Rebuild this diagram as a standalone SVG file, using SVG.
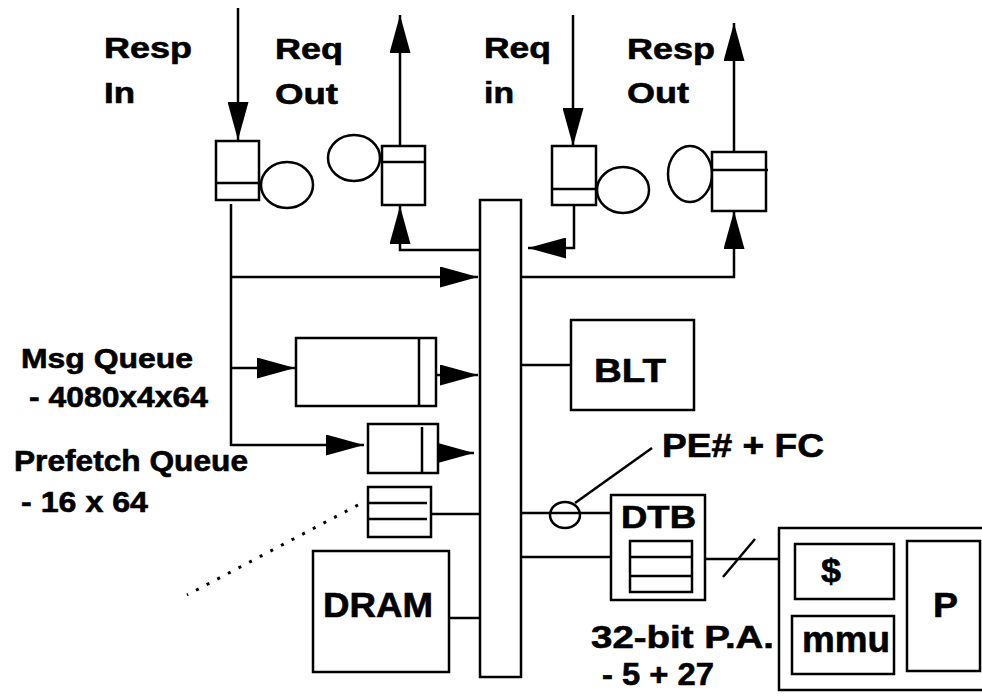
<svg xmlns="http://www.w3.org/2000/svg" width="982" height="699" viewBox="0 0 982 699">
<style>
.s{fill:none;stroke:#000;stroke-width:2.5}
.w{fill:#fff;stroke:#000;stroke-width:2.5}
.t{font-family:"Liberation Sans",Arial,Helvetica,sans-serif;font-weight:bold;fill:#000;stroke:#000;stroke-width:0.6}
</style>
<defs>
<marker id="ah" viewBox="0 0 38 21" refX="38" refY="10.5" markerWidth="38" markerHeight="21" markerUnits="userSpaceOnUse" orient="auto">
<path d="M0,0 L38,10.5 L0,21 z" fill="#000"/>
</marker>
</defs>
<rect width="982" height="699" fill="#fff"/>

<g id="labels">
<text class="t" x="104" y="58" font-size="30" textLength="88" lengthAdjust="spacingAndGlyphs">Resp</text>
<text class="t" x="104" y="103" font-size="30" textLength="31" lengthAdjust="spacingAndGlyphs">In</text>
<text class="t" x="275" y="59" font-size="30" textLength="68" lengthAdjust="spacingAndGlyphs">Req</text>
<text class="t" x="275" y="104" font-size="30" textLength="63" lengthAdjust="spacingAndGlyphs">Out</text>
<text class="t" x="484" y="58" font-size="30" textLength="67" lengthAdjust="spacingAndGlyphs">Req</text>
<text class="t" x="484" y="103" font-size="30" textLength="30" lengthAdjust="spacingAndGlyphs">in</text>
<text class="t" x="627" y="59" font-size="30" textLength="88" lengthAdjust="spacingAndGlyphs">Resp</text>
<text class="t" x="627" y="103" font-size="30" textLength="62" lengthAdjust="spacingAndGlyphs">Out</text>
<text class="t" x="21" y="368" font-size="28" textLength="172" lengthAdjust="spacingAndGlyphs">Msg Queue</text>
<text class="t" x="29" y="407" font-size="29" textLength="179" lengthAdjust="spacingAndGlyphs">- 4080x4x64</text>
<text class="t" x="14" y="471" font-size="29" textLength="234" lengthAdjust="spacingAndGlyphs">Prefetch Queue</text>
<text class="t" x="21" y="512" font-size="30" textLength="127" lengthAdjust="spacingAndGlyphs">- 16 x 64</text>
<text class="t" x="662" y="457" font-size="33" textLength="162" lengthAdjust="spacingAndGlyphs">PE# + FC</text>
<text class="t" x="591" y="648" font-size="32" textLength="183" lengthAdjust="spacingAndGlyphs">32-bit P.A.</text>
<text class="t" x="602" y="685" font-size="32" textLength="112" lengthAdjust="spacingAndGlyphs">- 5 + 27</text>
</g>

<g id="connectors">
<line class="s" x1="238" y1="8" x2="238" y2="140" marker-end="url(#ah)"/>
<line class="s" x1="400" y1="146" x2="400" y2="15" marker-end="url(#ah)"/>
<path class="s" d="M481,250 H400 V206" marker-end="url(#ah)"/>
<path class="s" d="M231,204 V445 H364" marker-end="url(#ah)"/>
<line class="s" x1="231" y1="277" x2="478" y2="277" marker-end="url(#ah)"/>
<line class="s" x1="231" y1="368" x2="295" y2="368" marker-end="url(#ah)"/>
<line class="s" x1="436" y1="375" x2="478" y2="375" marker-end="url(#ah)"/>
<line class="s" x1="434" y1="453" x2="474" y2="453" marker-end="url(#ah)"/>
<line class="s" x1="431" y1="514" x2="480" y2="514"/>
<line class="s" x1="449" y1="618" x2="480" y2="618"/>
<line x1="358" y1="505" x2="187" y2="595" stroke="#000" stroke-width="3" stroke-dasharray="3 9"/>
<line class="s" x1="573" y1="15" x2="573" y2="146" marker-end="url(#ah)"/>
<path class="s" d="M574,205 V248 H528" marker-end="url(#ah)"/>
<path class="s" d="M521,277 H734 V211" marker-end="url(#ah)"/>
<line class="s" x1="734" y1="152" x2="734" y2="23" marker-end="url(#ah)"/>
<line class="s" x1="521" y1="365" x2="571" y2="365"/>
<line class="s" x1="521" y1="513" x2="611" y2="513"/>
<line class="s" x1="521" y1="557" x2="611" y2="557"/>
<line class="s" x1="575" y1="503" x2="652" y2="448"/>
<line class="s" x1="705" y1="559" x2="780" y2="559"/>
<line class="s" x1="723" y1="577" x2="755" y2="539"/>
</g>

<g id="resp-in-queue">
<rect class="w" x="216" y="141" width="43" height="59"/>
<line class="s" x1="216" y1="183" x2="259" y2="183"/>
</g>
<g id="circle-1"><ellipse class="s" cx="287" cy="185" rx="26" ry="23"/></g>
<g id="circle-2"><ellipse class="s" cx="354" cy="158" rx="26" ry="23"/></g>
<g id="req-out-queue">
<rect class="w" x="382" y="146" width="43" height="59"/>
<line class="s" x1="382" y1="162" x2="425" y2="162"/>
</g>
<g id="req-in-queue">
<rect class="w" x="552" y="146" width="44" height="59"/>
<line class="s" x1="552" y1="189" x2="596" y2="189"/>
</g>
<g id="circle-3"><ellipse class="s" cx="623" cy="190" rx="26" ry="23"/></g>
<g id="circle-4"><ellipse class="s" cx="690" cy="174" rx="22" ry="28"/></g>
<g id="resp-out-queue">
<rect class="w" x="712" y="152" width="54" height="59"/>
<line class="s" x1="712" y1="170" x2="768" y2="170"/>
</g>
<g id="bus"><rect class="w" x="480" y="200" width="41" height="477"/></g>
<g id="msg-queue">
<rect class="w" x="296" y="338" width="140" height="68"/>
<line class="s" x1="419" y1="338" x2="419" y2="406"/>
</g>
<g id="prefetch-queue">
<rect class="w" x="368" y="424" width="70" height="49"/>
<line class="s" x1="422" y1="427" x2="422" y2="473"/>
</g>
<g id="small-queue">
<rect class="w" x="368" y="487" width="63" height="50"/>
<line class="s" x1="368" y1="503" x2="427" y2="503"/>
<line class="s" x1="368" y1="519" x2="427" y2="519"/>
</g>
<g id="dram">
<rect class="w" x="313" y="551" width="136" height="121"/>
<text class="t" x="323" y="617" font-size="35" textLength="110" lengthAdjust="spacingAndGlyphs">DRAM</text>
</g>
<g id="blt">
<rect class="w" x="571" y="320" width="123" height="90"/>
<text class="t" x="594" y="382" font-size="34" textLength="72" lengthAdjust="spacingAndGlyphs">BLT</text>
</g>
<g id="pe-circle"><ellipse class="s" cx="565" cy="515" rx="15" ry="13"/></g>
<g id="dtb">
<rect class="w" x="611" y="495" width="94" height="105"/>
<text class="t" x="621" y="528" font-size="32" textLength="75" lengthAdjust="spacingAndGlyphs">DTB</text>
<rect class="w" x="630" y="541" width="62" height="51"/>
<line class="s" x1="630" y1="557" x2="692" y2="557"/>
<line class="s" x1="630" y1="576" x2="692" y2="576"/>
</g>
<g id="processor">
<rect class="w" x="779" y="528" width="220" height="162"/>
<rect class="w" x="795" y="544" width="99" height="55"/>
<text class="t" x="821" y="582" font-size="34" textLength="20" lengthAdjust="spacingAndGlyphs">$</text>
<rect class="w" x="792" y="616" width="102" height="58"/>
<text class="t" x="802" y="652" font-size="36" textLength="88" lengthAdjust="spacingAndGlyphs">mmu</text>
<rect class="w" x="907" y="541" width="73" height="130"/>
<text class="t" x="933" y="617" font-size="35" textLength="25" lengthAdjust="spacingAndGlyphs">P</text>
</g>
</svg>
